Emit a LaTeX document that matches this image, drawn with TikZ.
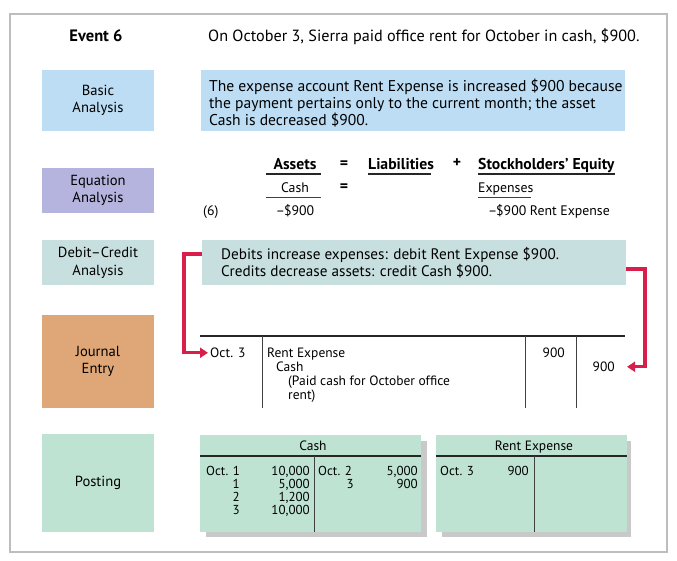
\documentclass[tikz,border=0pt]{standalone}
\usepackage{fontspec}
\setmainfont{PT Sans}
\usetikzlibrary{arrows.meta}
\definecolor{basicblue}{HTML}{BCDDF3}
\definecolor{eqviolet}{HTML}{B4B4DF}
\definecolor{dcteal}{HTML}{C8DFE0}
\definecolor{jetan}{HTML}{DFA777}
\definecolor{postmint}{HTML}{BEE3D3}
\definecolor{shadowgray}{HTML}{C9C9C9}
\definecolor{linkred}{HTML}{D81F4B}
\definecolor{framegray}{HTML}{BDBDBD}
\begin{document}
\begin{tikzpicture}[x=1pt,y=-1pt,
  headtxt/.style={inner sep=0pt, font=\fontsize{16.2}{18}\selectfont},
  txt/.style={inner sep=0pt, font=\fontsize{15.2}{17}\selectfont},
  eqtxt/.style={inner sep=0pt, font=\fontsize{13.8}{17}\selectfont},
  btxt/.style={inner sep=0pt, font=\fontsize{15.7}{18}\selectfont\bfseries},
  sidebox/.style={inner sep=0pt, minimum width=112pt, align=center, font=\fontsize{14.6}{17.6}\selectfont},
  panel/.style={inner sep=0pt, anchor=north west},
  jtxt/.style={inner sep=0pt, font=\fontsize{13.5}{14}\selectfont},
  ptxt/.style={inner sep=0pt, font=\fontsize{13}{14}\selectfont},
  rule/.style={line width=1.1pt, draw=black!85},
  thin rule/.style={line width=0.9pt, draw=black!75},
  link/.style={draw=linkred, line width=3.2pt, -{Triangle[length=8pt,width=10pt]}},
]
\useasboundingbox (0,0) rectangle (677,560);
\draw[framegray, line width=1.2pt] (10,14) rectangle (667,552);

% row labels on the left
\node[inner sep=0pt, font=\fontsize{16.5}{18}\selectfont\bfseries] (event) at (96,36) {Event 6};
\node[sidebox, fill=basicblue, minimum height=61pt] (basic) at (98,100.5) {Basic\\Analysis};
\node[sidebox, fill=eqviolet, minimum height=45pt] (eqlab) at (98,190.5) {Equation\\Analysis};
\node[sidebox, fill=dcteal, minimum height=45pt] (dclab) at (98,262.5) {Debit--Credit\\Analysis};
\node[sidebox, fill=jetan, minimum height=93pt] (jelab) at (98,361.5) {Journal\\Entry};
\node[sidebox, fill=postmint, minimum height=98pt] (postlab) at (98,483) {Posting};

% event statement
\node[headtxt, anchor=west] (eventtext) at (208,37) {On October 3, Sierra paid office rent for October in cash, \$900.};

% basic analysis
\node[panel, fill=basicblue, minimum width=424pt, minimum height=61pt] (basicbox) at (201,70) {};
\node[txt, font=\fontsize{15.6}{17}\selectfont, anchor=north west, align=left] (basictext) at (209,79) {The expense account Rent Expense is increased \$900 because\\the payment pertains only to the current month; the asset\\Cash is decreased \$900.};

% equation analysis
\node[btxt, anchor=base] (assets) at (295,169) {Assets};
\node[btxt, anchor=base] (eq1) at (344,168) {=};
\node[btxt, anchor=base west] (liab) at (368,169) {Liabilities};
\node[btxt, anchor=base] (plus) at (457,167) {+};
\node[btxt, anchor=base west] (se) at (478,169) {Stockholders’ Equity};
\draw[rule] (266,174) -- (321,174);
\draw[rule] (368,174) -- (431,174);
\draw[rule] (478,174) -- (615,174);
\node[eqtxt, anchor=base] (cashhd) at (295,192) {Cash};
\node[btxt, anchor=base] (eq2) at (344,191) {=};
\node[eqtxt, anchor=base west] (exphd) at (478,192) {Expenses};
\draw[thin rule] (266,197.5) -- (321,197.5);
\draw[thin rule] (478,197.5) -- (531,197.5);
\node[eqtxt, anchor=base west] (evnum) at (203,215) {(6)};
\node[eqtxt, anchor=base] (cashamt) at (295,215) {–\kern-1pt\$900};
\node[eqtxt, anchor=base east] (expamt) at (610,215) {–\kern-1pt\$900 Rent Expense};

% debit-credit analysis
\node[panel, fill=dcteal, minimum width=424pt, minimum height=45pt] (dcbox) at (202,240) {};
\node[txt, anchor=north west, align=left] (dctext) at (221,247) {Debits increase expenses: debit Rent Expense \$900.\\Credits decrease assets: credit Cash \$900.};
\coordinate (lstart) at (202,254);
\coordinate (rstart) at (626,269);

% journal entry
\draw[rule] (200,336) -- (625,336);
\draw[thin rule] (262,336) -- (262,408);
\draw[thin rule] (525,336) -- (525,408);
\draw[thin rule] (576,336) -- (576,408);
\node[jtxt, anchor=base west] (joct) at (210,357) {Oct. 3};
\node[jtxt, anchor=base west] (jdr) at (267,357) {Rent Expense};
\node[jtxt, anchor=base west] (jcash) at (276,371) {Cash};
\node[jtxt, anchor=base west] (jexp1) at (288,385) {(Paid cash for October office};
\node[jtxt, anchor=base west] (jexp2) at (288,399) {rent)};
\node[jtxt, anchor=base east] (jdbamt) at (565,357) {900};
\node[jtxt, anchor=base east] (jcramt) at (615,371) {900};

% connectors from the analysis to the entry
\draw[link] (lstart) -- ++(-18,0) |- ([xshift=-2pt,yshift=-0.5pt]joct.west);
\draw[link] (rstart) -- ++(19,0) |- ([xshift=12pt,yshift=-0.5pt]jcramt.east);

% posting: Cash T-account
\fill[shadowgray] (206,441) rectangle (427,537);
\node[panel, fill=postmint, minimum width=221pt, minimum height=97pt] (cashT) at (200,435) {};
\node[jtxt, anchor=base] (cashtitle) at (313,450) {Cash};
\draw[rule] (200,456) -- (421,456);
\draw[thin rule] (314.5,456) -- (314.5,532);
\node[ptxt, anchor=base west] (c1) at (206,475) {Oct. 1};
\node[ptxt, anchor=base east] (c2) at (240,488) {1};
\node[ptxt, anchor=base east] (c3) at (240,501) {2};
\node[ptxt, anchor=base east] (c4) at (240,514) {3};
\node[ptxt, anchor=base east] (c5) at (310,475) {10,000};
\node[ptxt, anchor=base east] (c6) at (310,488) {5,000};
\node[ptxt, anchor=base east] (c7) at (310,501) {1,200};
\node[ptxt, anchor=base east] (c8) at (310,514) {10,000};
\node[ptxt, anchor=base west] (c9) at (318,475) {Oct. 2};
\node[ptxt, anchor=base east] (c10) at (354,488) {3};
\node[ptxt, anchor=base east] (c11) at (418,475) {5,000};
\node[ptxt, anchor=base east] (c12) at (418,488) {900};

% posting: Rent Expense T-account
\fill[shadowgray] (442,441) rectangle (631,537);
\node[panel, fill=postmint, minimum width=191pt, minimum height=97pt] (rentT) at (436,435) {};
\node[jtxt, anchor=base] (renttitle) at (534,450) {Rent Expense};
\draw[rule] (436,456) -- (627,456);
\draw[thin rule] (534.5,456) -- (534.5,532);
\node[ptxt, anchor=base west] (r1) at (440,475) {Oct. 3};
\node[ptxt, anchor=base east] (r2) at (529,475) {900};
\end{tikzpicture}
\end{document}
